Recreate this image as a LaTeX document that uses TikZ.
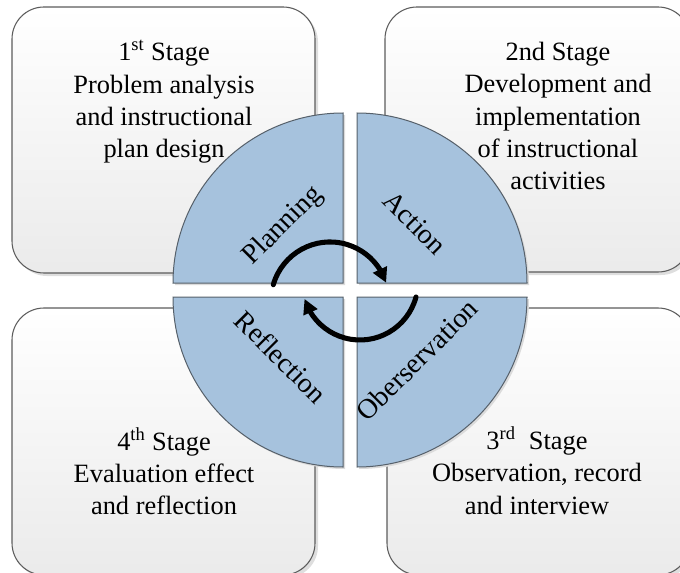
\documentclass[tikz,border=0pt]{standalone}
\usepackage{fontspec}
\setmainfont{Liberation Serif}
\usetikzlibrary{arrows.meta,bending}
\definecolor{qfill}{HTML}{A6C2DD}
\definecolor{qline}{HTML}{56606A}
\definecolor{bline}{HTML}{5C5C5C}
\begin{document}
\begin{tikzpicture}[x=0.75pt,y=-0.75pt,
  stagebox/.style={rectangle, rounded corners=24pt, draw=bline, line width=0.8pt, top color=white, bottom color=black!8, inner sep=0pt},
  boxshadow/.style={rectangle, rounded corners=24pt, fill=black!13, draw=none, inner sep=0pt},
  stagetext/.style={align=center, inner sep=0pt, font=\fontsize{19.8}{24.2}\selectfont},
  quarter/.style={fill=qfill, draw=qline, line width=0.75pt},
  qshadow/.style={fill=black!14},
  qlabel/.style={inner sep=0pt, font=\fontsize{21}{24}\selectfont},
  cycarrow/.style={line width=3.8pt, line cap=round, -{Triangle[length=11pt,width=11pt]}}]

\useasboundingbox (0,0) rectangle (680,573);
\clip (0,0) rectangle (680,573);

% stage boxes
\node[boxshadow, minimum width=227.25pt, minimum height=199.5pt] (s1) at (166.5,143) {};
\node[stagebox, minimum width=227.25pt, minimum height=199.5pt] (b1) at (163.5,140) {};
\node[boxshadow, minimum width=228.75pt, minimum height=198.75pt] (s2) at (540.5,142.5) {};
\node[stagebox, minimum width=228.75pt, minimum height=198.75pt] (b2) at (537.5,139.5) {};
\node[boxshadow, minimum width=227.25pt, minimum height=200.25pt] (s3) at (166.5,444.5) {};
\node[stagebox, minimum width=227.25pt, minimum height=200.25pt] (b3) at (163.5,441.5) {};
\node[boxshadow, minimum width=227.25pt, minimum height=200.25pt] (s4) at (541.5,444.5) {};
\node[stagebox, minimum width=227.25pt, minimum height=200.25pt] (b4) at (538.5,441.5) {};

% quarter circles
\fill[qshadow, shift={(2,2)}] (343,283) -- (173,283) arc[start angle=180, end angle=270, radius=170] -- cycle;
\fill[qshadow, shift={(2,2)}] (357,283) -- (357,113) arc[start angle=270, end angle=360, radius=170] -- cycle;
\fill[qshadow, shift={(2,2)}] (357,297) -- (527,297) arc[start angle=0, end angle=90, radius=170] -- cycle;
\fill[qshadow, shift={(2,2)}] (343,297) -- (343,467) arc[start angle=90, end angle=180, radius=170] -- cycle;

\path[quarter] (343,283) -- (173,283) arc[start angle=180, end angle=270, radius=170] -- cycle;
\path[quarter] (357,283) -- (357,113) arc[start angle=270, end angle=360, radius=170] -- cycle;
\path[quarter] (357,297) -- (527,297) arc[start angle=0, end angle=90, radius=170] -- cycle;
\path[quarter] (343,297) -- (343,467) arc[start angle=90, end angle=180, radius=170] -- cycle;

% quarter labels
\node[qlabel, rotate=45] (lp) at (283,226) {Planning};
\node[qlabel, rotate=-45] (la) at (415,223) {Action};
\node[qlabel, rotate=-45] (lr) at (281,357) {Reflection};
\node[qlabel, rotate=45] (lo) at (417,360) {Oberservation};

% cycle arrows
\coordinate (a1s) at (273.3,284.7);
\coordinate (a2s) at (416,297);
\draw[cycarrow] (a1s) arc[start angle=196, end angle=342, radius=59];
\draw[cycarrow] (a2s) arc[start angle=15, end angle=163, radius=58];

% stage texts
\node[stagetext] (t1) at (164,102) {1\textsuperscript{st} Stage\\Problem analysis\\and instructional\\plan design};
\node[stagetext] (t2) at (558,116) {2nd Stage\\Development and\\implementation\\of instructional\\activities};
\node[stagetext] (t4) at (164,471) {4\textsuperscript{th} Stage\\Evaluation effect\\and reflection};
\node[stagetext] (t3) at (537,470.5) {3\textsuperscript{rd}\ \ Stage\\Observation, record\\and interview};
\end{tikzpicture}
\end{document}
